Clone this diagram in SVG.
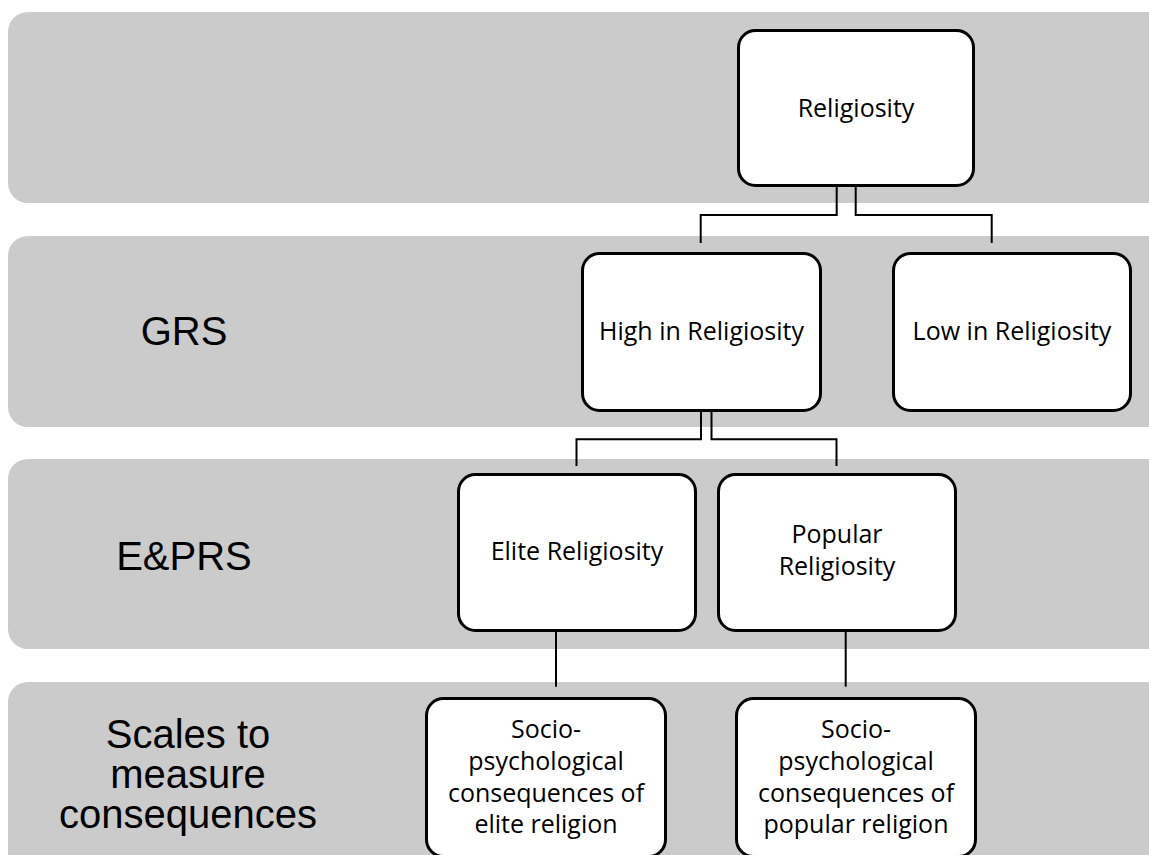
<svg xmlns="http://www.w3.org/2000/svg" width="1149" height="855" viewBox="0 0 1149 855">
<style>
.band{fill:#cbcbcb;}
.node{fill:#ffffff;stroke:#000000;stroke-width:3;}
.ntext{font-family:"Open Sans","Noto Sans",sans-serif;font-size:25px;fill:#000000;text-anchor:middle;}
.ltext{font-family:"Liberation Sans",Arial,sans-serif;font-size:40px;fill:#000000;text-anchor:middle;}
.conn{fill:none;stroke:#000000;stroke-width:2;}
</style>
<rect width="1149" height="855" fill="#ffffff"/>
<g id="bands">
<rect class="band" x="8" y="12" width="1170" height="191" rx="20"/>
<rect class="band" x="8" y="236" width="1170" height="191" rx="20"/>
<rect class="band" x="8" y="459" width="1170" height="190" rx="20"/>
<rect class="band" x="8" y="682" width="1170" height="200" rx="20"/>
<text class="ltext" x="184" y="345">GRS</text>
<text class="ltext" x="184" y="570">E&amp;PRS</text>
<text class="ltext" x="188" y="748">Scales to</text>
<text class="ltext" x="188" y="788">measure</text>
<text class="ltext" x="188" y="828">consequences</text>
</g>
<g id="connectors">
<path class="conn" d="M836.7,187 V215 H700.7 V243"/>
<path class="conn" d="M855.7,187 V215 H991.7 V243"/>
<path class="conn" d="M701,412 V439.3 H576.5 V466"/>
<path class="conn" d="M711.5,412 V439.3 H836.5 V466"/>
<path class="conn" d="M556,632 V686.7"/>
<path class="conn" d="M845.7,632 V686.7"/>
</g>
<g id="religiosity">
<rect class="node" x="738.5" y="30.5" width="235" height="155" rx="17"/>
<text class="ntext" x="856" y="116.7">Religiosity</text>
</g>
<g id="high">
<rect class="node" x="582.5" y="253.5" width="238" height="157" rx="17"/>
<text class="ntext" x="701.5" y="340">High in Religiosity</text>
</g>
<g id="low">
<rect class="node" x="893.5" y="253.5" width="237" height="157" rx="17"/>
<text class="ntext" x="1012" y="340">Low in Religiosity</text>
</g>
<g id="elite">
<rect class="node" x="458.5" y="474.5" width="237" height="156" rx="17"/>
<text class="ntext" x="577" y="560">Elite Religiosity</text>
</g>
<g id="popular">
<rect class="node" x="718.5" y="474.5" width="237" height="156" rx="17"/>
<text class="ntext" x="837" y="543.3">Popular</text>
<text class="ntext" x="837" y="575">Religiosity</text>
</g>
<g id="socio-elite">
<rect class="node" x="426.5" y="698.5" width="239" height="158" rx="17"/>
<text class="ntext" x="546" y="737.7">Socio-</text>
<text class="ntext" x="546" y="769.5">psychological</text>
<text class="ntext" x="546" y="801.5">consequences of</text>
<text class="ntext" x="546" y="833.3">elite religion</text>
</g>
<g id="socio-popular">
<rect class="node" x="736.5" y="698.5" width="239" height="158" rx="17"/>
<text class="ntext" x="856" y="737.7">Socio-</text>
<text class="ntext" x="856" y="769.5">psychological</text>
<text class="ntext" x="856" y="801.5">consequences of</text>
<text class="ntext" x="856" y="833.3">popular religion</text>
</g>
</svg>
